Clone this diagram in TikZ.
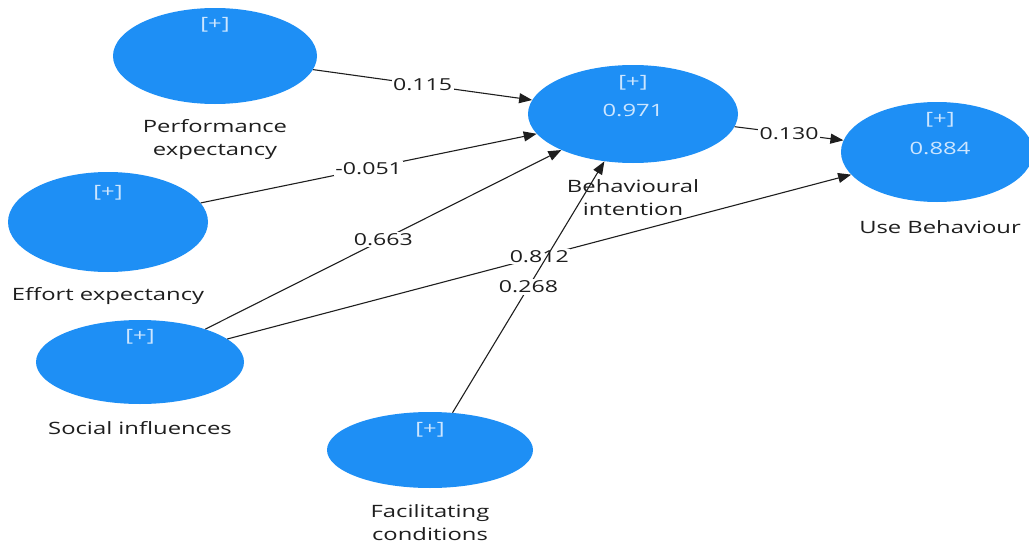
\documentclass[tikz,border=0pt]{standalone}
\usepackage{fontspec}
\setmainfont{Open Sans}[FakeStretch=1.4]
\usetikzlibrary{shapes.geometric,arrows.meta}
\definecolor{lvblue}{RGB}{30,143,245}
\definecolor{lvtext}{RGB}{205,230,255}
\definecolor{ink}{RGB}{30,30,30}
\tikzset{
  lv/.style={ellipse,fill=lvblue,draw=none,inner sep=0pt},
  intxt/.style={text=lvtext,font=\fontsize{17}{19}\selectfont,inner sep=0pt},
  lvcap/.style={text=ink,font=\fontsize{17}{23}\selectfont,align=center,inner sep=0pt},
  pathline/.style={draw=ink,line width=1.1pt,-{Triangle[length=13pt,width=10pt]}},
  coef/.style={fill=white,text=ink,font=\fontsize{16.5}{18}\selectfont,inner sep=1.5pt,pos=0.5}
}
\begin{document}
\begin{tikzpicture}[x=1pt,y=-1pt]
\useasboundingbox (0,0) rectangle (1029,546);
% latent variables
\node[lv,minimum width=204pt,minimum height=96pt] (pe) at (215,56) {};
\node[lv,minimum width=200pt,minimum height=100pt] (ee) at (108,222) {};
\node[lv,minimum width=208pt,minimum height=84pt] (si) at (140,362) {};
\node[lv,minimum width=206pt,minimum height=76pt] (fc) at (430,450) {};
\node[lv,minimum width=210pt,minimum height=98pt] (bi) at (633,114) {};
\node[lv,minimum width=192pt,minimum height=100pt] (ub) at (937,152) {};
% texts inside
\node[intxt] (pep) at (215,25) {[+]};
\node[intxt] (eep) at (108,193) {[+]};
\node[intxt] (sip) at (140,337) {[+]};
\node[intxt] (fcp) at (430,430) {[+]};
\node[intxt] (bip) at (633,83) {[+]};
\node[intxt] (bir) at (633,110) {0.971};
\node[intxt] (ubp) at (940,120) {[+]};
\node[intxt] (ubr) at (940,148) {0.884};
% captions
\node[lvcap] (pec) at (215,140) {Performance\\expectancy};
\node[lvcap] (eec) at (108,296) {Effort expectancy};
\node[lvcap] (sic) at (140,428) {Social influences};
\node[lvcap] (fcc) at (430,523) {Facilitating\\conditions};
\node[lvcap] (bic) at (633,198) {Behavioural\\intention};
\node[lvcap] (ubc) at (940,227) {Use Behaviour};
% paths
\draw[pathline] (pe) -- (bi) node[coef] (c1) {0.115};
\draw[pathline] (ee) -- (bi) node[coef] (c2) {-0.051};
\draw[pathline] (si) -- (bi) node[coef] (c3) {0.663};
\draw[pathline] (si) -- (ub) node[coef] (c4) {0.812};
\draw[pathline] (fc) -- (bi) node[coef] (c5) {0.268};
\draw[pathline] (bi) -- (ub) node[coef] (c6) {0.130};
\end{tikzpicture}
\end{document}
